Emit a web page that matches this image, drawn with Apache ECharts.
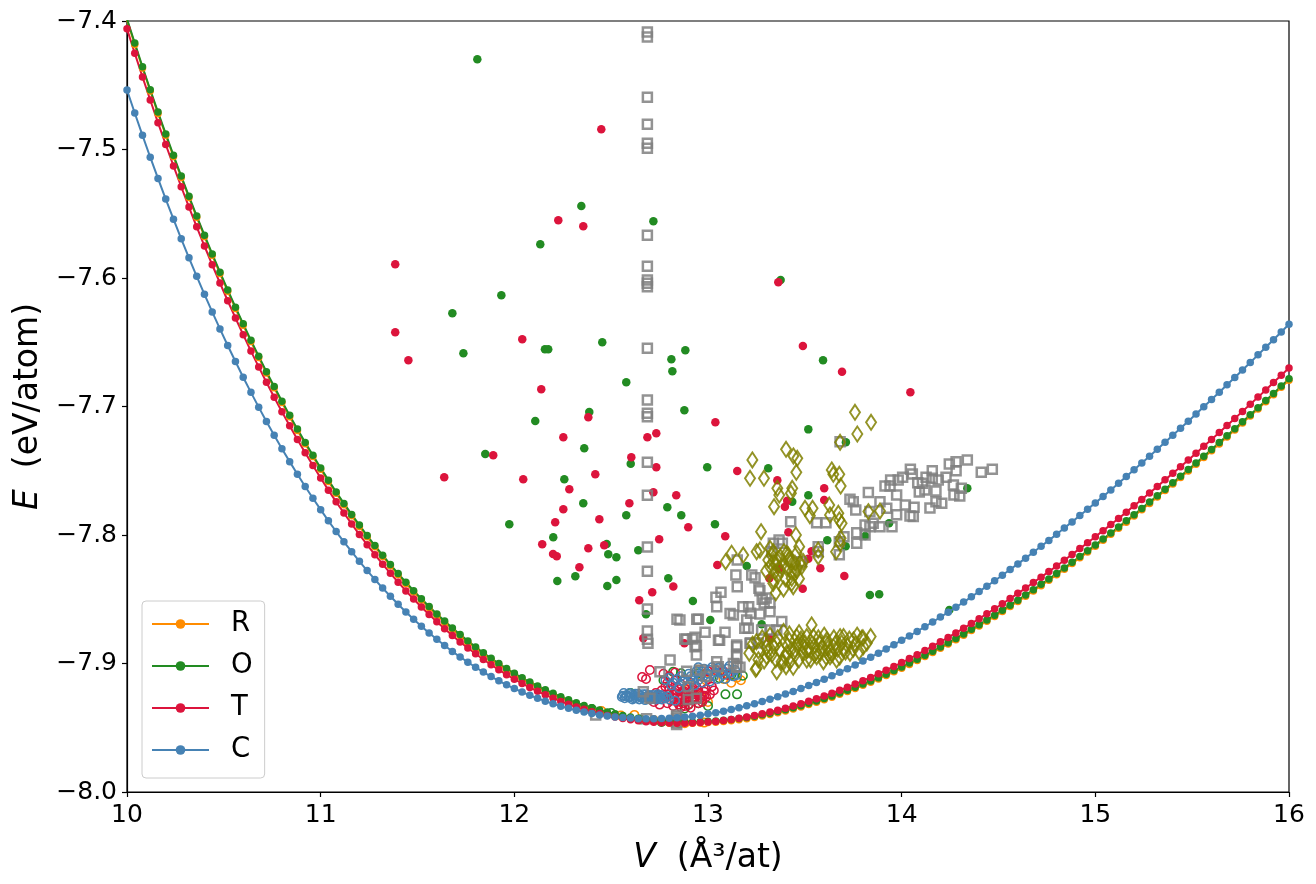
<!DOCTYPE html>
<html>
<head>
<meta charset="utf-8">
<title>E(V)</title>
<script src="https://cdn.jsdelivr.net/npm/echarts/dist/echarts.min.js"></script>
<style>
  html, body { margin: 0; padding: 0; background: #fff; }
  #chart { width: 1316px; height: 884px; }
</style>
</head>
<body>
<div id="chart"></div>
<script>
// volume grid shared by the four E(V) curves (A^3/at)
var vol = [
  10.00,10.04,10.08,10.12,10.16,10.20,10.24,10.28,10.32,10.36,10.40,10.44,10.48,10.52,10.56,10.60,10.64,10.68,10.72,10.76,10.80,10.84,10.88,10.92,10.96,
  11.00,11.04,11.08,11.12,11.16,11.20,11.24,11.28,11.32,11.36,11.40,11.44,11.48,11.52,11.56,11.60,11.64,11.68,11.72,11.76,11.80,11.84,11.88,11.92,11.96,
  12.00,12.04,12.08,12.12,12.16,12.20,12.24,12.28,12.32,12.36,12.40,12.44,12.48,12.52,12.56,12.60,12.64,12.68,12.72,12.76,12.80,12.84,12.88,12.92,12.96,
  13.00,13.04,13.08,13.12,13.16,13.20,13.24,13.28,13.32,13.36,13.40,13.44,13.48,13.52,13.56,13.60,13.64,13.68,13.72,13.76,13.80,13.84,13.88,13.92,13.96,
  14.00,14.04,14.08,14.12,14.16,14.20,14.24,14.28,14.32,14.36,14.40,14.44,14.48,14.52,14.56,14.60,14.64,14.68,14.72,14.76,14.80,14.84,14.88,14.92,14.96,
  15.00,15.04,15.08,15.12,15.16,15.20,15.24,15.28,15.32,15.36,15.40,15.44,15.48,15.52,15.56,15.60,15.64,15.68,15.72,15.76,15.80,15.84,15.88,15.92,15.96,
  16.00
];

// energies (eV/atom)
var eR = [
  -7.3994,-7.4182,-7.4366,-7.4545,-7.4719,-7.4889,-7.5055,-7.5217,-7.5374,-7.5528,-7.5677,-7.5823,-7.5965,-7.6103,-7.6237,-7.6367,-7.6495,-7.6618,-7.6739,-7.6855,-7.6969,-7.7079,-7.7186,-7.7290,-7.7390,
  -7.7488,-7.7583,-7.7675,-7.7764,-7.7850,-7.7933,-7.8014,-7.8092,-7.8167,-7.8240,-7.8310,-7.8378,-7.8443,-7.8506,-7.8566,-7.8624,-7.8680,-7.8734,-7.8785,-7.8834,-7.8881,-7.8927,-7.8969,-7.9010,-7.9049,
  -7.9086,-7.9121,-7.9154,-7.9185,-7.9214,-7.9242,-7.9269,-7.9293,-7.9315,-7.9336,-7.9355,-7.9372,-7.9388,-7.9402,-7.9415,-7.9426,-7.9436,-7.9445,-7.9451,-7.9457,-7.9461,-7.9464,-7.9465,-7.9465,-7.9463,
  -7.9460,-7.9457,-7.9452,-7.9446,-7.9438,-7.9430,-7.9420,-7.9409,-7.9397,-7.9383,-7.9369,-7.9354,-7.9338,-7.9320,-7.9302,-7.9282,-7.9262,-7.9240,-7.9218,-7.9195,-7.9170,-7.9146,-7.9120,-7.9093,-7.9065,
  -7.9037,-7.9007,-7.8977,-7.8946,-7.8914,-7.8882,-7.8849,-7.8815,-7.8780,-7.8744,-7.8708,-7.8671,-7.8634,-7.8595,-7.8556,-7.8517,-7.8477,-7.8436,-7.8394,-7.8352,-7.8310,-7.8266,-7.8222,-7.8178,-7.8133,
  -7.8087,-7.8041,-7.7995,-7.7948,-7.7900,-7.7852,-7.7803,-7.7754,-7.7704,-7.7654,-7.7604,-7.7553,-7.7501,-7.7449,-7.7397,-7.7344,-7.7291,-7.7237,-7.7183,-7.7129,-7.7074,-7.7019,-7.6964,-7.6908,-7.6851,
  -7.6795
];
var eO = [
  -7.3984,-7.4172,-7.4356,-7.4535,-7.4709,-7.4879,-7.5045,-7.5207,-7.5364,-7.5518,-7.5667,-7.5813,-7.5955,-7.6093,-7.6227,-7.6357,-7.6485,-7.6608,-7.6729,-7.6845,-7.6959,-7.7069,-7.7176,-7.7280,-7.7380,
  -7.7478,-7.7573,-7.7665,-7.7754,-7.7840,-7.7923,-7.8004,-7.8082,-7.8157,-7.8230,-7.8300,-7.8368,-7.8433,-7.8496,-7.8556,-7.8614,-7.8670,-7.8724,-7.8775,-7.8824,-7.8871,-7.8917,-7.8959,-7.9000,-7.9039,
  -7.9076,-7.9111,-7.9144,-7.9175,-7.9204,-7.9232,-7.9259,-7.9283,-7.9305,-7.9326,-7.9345,-7.9362,-7.9378,-7.9392,-7.9405,-7.9416,-7.9426,-7.9435,-7.9441,-7.9447,-7.9451,-7.9454,-7.9455,-7.9455,-7.9453,
  -7.9450,-7.9447,-7.9442,-7.9436,-7.9428,-7.9420,-7.9410,-7.9399,-7.9387,-7.9373,-7.9359,-7.9344,-7.9328,-7.9310,-7.9292,-7.9272,-7.9252,-7.9230,-7.9208,-7.9185,-7.9160,-7.9136,-7.9110,-7.9083,-7.9055,
  -7.9027,-7.8997,-7.8967,-7.8936,-7.8904,-7.8872,-7.8839,-7.8805,-7.8770,-7.8734,-7.8698,-7.8661,-7.8624,-7.8585,-7.8546,-7.8507,-7.8467,-7.8426,-7.8384,-7.8342,-7.8300,-7.8256,-7.8212,-7.8168,-7.8123,
  -7.8077,-7.8031,-7.7985,-7.7938,-7.7890,-7.7842,-7.7793,-7.7744,-7.7694,-7.7644,-7.7594,-7.7543,-7.7491,-7.7439,-7.7387,-7.7334,-7.7281,-7.7227,-7.7173,-7.7119,-7.7064,-7.7009,-7.6954,-7.6898,-7.6841,
  -7.6785
];
var eT = [
  -7.4061,-7.4251,-7.4435,-7.4615,-7.4791,-7.4961,-7.5128,-7.5290,-7.5448,-7.5602,-7.5751,-7.5897,-7.6039,-7.6177,-7.6311,-7.6441,-7.6569,-7.6692,-7.6811,-7.6928,-7.7041,-7.7150,-7.7256,-7.7359,-7.7459,
  -7.7556,-7.7651,-7.7742,-7.7829,-7.7914,-7.7997,-7.8076,-7.8153,-7.8227,-7.8298,-7.8367,-7.8435,-7.8498,-7.8560,-7.8619,-7.8675,-7.8730,-7.8782,-7.8832,-7.8879,-7.8924,-7.8969,-7.9010,-7.9049,-7.9087,
  -7.9122,-7.9155,-7.9187,-7.9216,-7.9244,-7.9270,-7.9295,-7.9317,-7.9338,-7.9357,-7.9375,-7.9390,-7.9405,-7.9417,-7.9428,-7.9437,-7.9446,-7.9453,-7.9458,-7.9462,-7.9464,-7.9465,-7.9465,-7.9463,-7.9460,
  -7.9455,-7.9451,-7.9444,-7.9436,-7.9427,-7.9416,-7.9405,-7.9392,-7.9378,-7.9364,-7.9348,-7.9331,-7.9313,-7.9294,-7.9274,-7.9253,-7.9231,-7.9208,-7.9185,-7.9160,-7.9134,-7.9108,-7.9080,-7.9052,-7.9023,
  -7.8993,-7.8962,-7.8931,-7.8898,-7.8865,-7.8831,-7.8797,-7.8762,-7.8725,-7.8689,-7.8651,-7.8613,-7.8574,-7.8535,-7.8495,-7.8454,-7.8413,-7.8370,-7.8328,-7.8285,-7.8241,-7.8196,-7.8151,-7.8106,-7.8060,
  -7.8013,-7.7966,-7.7919,-7.7871,-7.7822,-7.7773,-7.7723,-7.7673,-7.7622,-7.7571,-7.7520,-7.7468,-7.7416,-7.7363,-7.7310,-7.7256,-7.7203,-7.7148,-7.7093,-7.7038,-7.6983,-7.6927,-7.6871,-7.6814,-7.6757,
  -7.6700
];
var eC = [
  -7.4537,-7.4716,-7.4890,-7.5060,-7.5225,-7.5386,-7.5542,-7.5695,-7.5843,-7.5987,-7.6127,-7.6264,-7.6396,-7.6525,-7.6650,-7.6772,-7.6890,-7.7005,-7.7116,-7.7223,-7.7328,-7.7429,-7.7527,-7.7622,-7.7714,
  -7.7803,-7.7890,-7.7973,-7.8053,-7.8130,-7.8205,-7.8277,-7.8346,-7.8413,-7.8477,-7.8539,-7.8599,-7.8656,-7.8710,-7.8763,-7.8812,-7.8860,-7.8906,-7.8949,-7.8990,-7.9029,-7.9067,-7.9102,-7.9135,-7.9166,
  -7.9195,-7.9222,-7.9248,-7.9271,-7.9293,-7.9313,-7.9333,-7.9349,-7.9364,-7.9378,-7.9389,-7.9400,-7.9408,-7.9416,-7.9421,-7.9425,-7.9429,-7.9430,-7.9430,-7.9428,-7.9426,-7.9422,-7.9416,-7.9410,-7.9402,
  -7.9392,-7.9383,-7.9371,-7.9358,-7.9344,-7.9329,-7.9313,-7.9296,-7.9278,-7.9258,-7.9238,-7.9217,-7.9195,-7.9171,-7.9147,-7.9122,-7.9096,-7.9068,-7.9040,-7.9011,-7.8981,-7.8951,-7.8920,-7.8887,-7.8854,
  -7.8820,-7.8786,-7.8750,-7.8714,-7.8677,-7.8639,-7.8601,-7.8562,-7.8522,-7.8481,-7.8440,-7.8398,-7.8356,-7.8313,-7.8269,-7.8225,-7.8180,-7.8134,-7.8088,-7.8042,-7.7994,-7.7946,-7.7898,-7.7849,-7.7800,
  -7.7750,-7.7700,-7.7649,-7.7597,-7.7545,-7.7493,-7.7440,-7.7387,-7.7333,-7.7279,-7.7224,-7.7170,-7.7114,-7.7058,-7.7002,-7.6946,-7.6889,-7.6831,-7.6774,-7.6716,-7.6657,-7.6598,-7.6539,-7.6480,-7.6420,
  -7.6360
];

// extra O structures (filled green dots), [V, E]
var oExtra = [
  [11.809,-7.4298],[12.346,-7.544],[12.718,-7.5559],[12.134,-7.5738],[11.933,-7.6135],[11.680,-7.6275],
  [13.375,-7.6016],[11.737,-7.6586],[12.158,-7.6555],[12.175,-7.6555],[12.454,-7.650],[12.883,-7.6563],
  [12.811,-7.6633],[12.816,-7.6726],[12.578,-7.6812],[12.878,-7.703],[12.387,-7.7043],[12.108,-7.7113],
  [12.361,-7.7325],[11.850,-7.737],[12.601,-7.7445],[12.258,-7.7567],[12.356,-7.7753],[12.790,-7.7784],
  [12.862,-7.7847],[12.578,-7.7847],[11.974,-7.7917],[12.201,-7.8018],[12.477,-7.807],[12.485,-7.815],
  [12.527,-7.8174],[12.640,-7.8119],[12.222,-7.8358],[12.315,-7.8321],[12.480,-7.8397],[12.527,-7.835],
  [12.795,-7.8337],[12.922,-7.8514],[12.680,-7.8617],[13.518,-7.7178],[13.712,-7.7279],[12.996,-7.7473],
  [13.311,-7.7481],[13.518,-7.7691],[13.435,-7.7741],[13.036,-7.7917],[13.616,-7.8041],[13.711,-7.8088],
  [13.812,-7.8008],[13.935,-7.7909],[14.339,-7.7637],[13.200,-7.8241],[13.012,-7.8661],[13.277,-7.8695],
  [13.836,-7.8467],[13.884,-7.8461],[14.246,-7.8584],[13.594,-7.664]
];

// extra T structures (filled crimson dots)
var tExtra = [
  [12.449,-7.4843],[12.227,-7.5551],[12.356,-7.5598],[11.385,-7.5893],[13.363,-7.6033],[11.385,-7.6423],
  [11.453,-7.664],[12.041,-7.6477],[12.139,-7.6866],[12.382,-7.7084],[12.253,-7.724],[12.687,-7.724],
  [12.733,-7.7209],[11.891,-7.738],[12.604,-7.7395],[12.733,-7.7473],[11.638,-7.7551],[12.046,-7.7567],
  [12.418,-7.7528],[12.284,-7.7644],[12.718,-7.7668],[12.836,-7.7691],[12.594,-7.7753],[12.253,-7.780],
  [12.439,-7.7878],[12.211,-7.7901],[12.898,-7.794],[12.748,-7.8033],[12.144,-7.8072],[12.382,-7.8104],
  [12.464,-7.808],[12.200,-7.8148],[12.219,-7.8166],[12.336,-7.8251],[12.821,-7.84],[12.712,-7.8446],
  [12.645,-7.8508],[12.666,-7.8804],[12.878,-7.8843],[14.045,-7.6889],[13.038,-7.7123],[13.151,-7.7502],
  [13.358,-7.7574],[13.600,-7.7637],[13.600,-7.7728],[13.409,-7.7733],[13.397,-7.778],[13.089,-7.801],
  [13.415,-7.7979],[13.535,-7.8127],[13.518,-7.8185],[13.048,-7.8233],[13.368,-7.8262],[13.580,-7.8259],
  [13.704,-7.8319],[13.317,-7.8337],[13.489,-7.8418],[13.317,-7.8804],[13.490,-7.653],[13.692,-7.673]
];

// relaxed structures near the minimum (open circles)
var rOpen = [
  [12.95,-7.905],[13.00,-7.906],[13.05,-7.907],[13.10,-7.908],[13.15,-7.911],[13.17,-7.913],[13.12,-7.915],
  [13.03,-7.910],[12.93,-7.911],[12.99,-7.913],[13.08,-7.912],[12.90,-7.920],[12.96,-7.925],[13.00,-7.930],
  [12.62,-7.940],[12.72,-7.944],[12.80,-7.9455],[12.88,-7.9465],[12.98,-7.946],[12.45,-7.937],[12.55,-7.9405]
];
var oOpen = [
  [12.82,-7.9065],[12.86,-7.9075],[12.95,-7.9075],[13.06,-7.9115],[13.09,-7.924],[13.15,-7.924],[13.12,-7.909],
  [13.18,-7.9095],[12.90,-7.932],[12.95,-7.931],[13.00,-7.933],[12.82,-7.924],[12.77,-7.913],[12.92,-7.927],
  [12.88,-7.935],[12.60,-7.923],[12.50,-7.9385],[12.65,-7.9435],[12.76,-7.9455],[12.85,-7.9465],[12.40,-7.9355],
  [12.70,-7.928]
];
var tOpen = [
  [12.77,-7.908],[12.80,-7.910],[12.83,-7.913],[12.86,-7.916],[12.89,-7.918],[12.92,-7.921],[12.95,-7.923],
  [12.98,-7.925],[12.80,-7.920],[12.83,-7.923],[12.86,-7.925],[12.89,-7.927],[12.92,-7.929],[12.95,-7.931],
  [12.78,-7.927],[12.81,-7.929],[12.84,-7.930],[12.87,-7.931],[12.90,-7.932],[12.76,-7.925],[12.74,-7.928],
  [12.72,-7.930],[12.85,-7.920],[12.88,-7.922],[12.91,-7.915],[12.94,-7.918],[12.97,-7.915],[13.00,-7.912],
  [13.02,-7.918],[12.99,-7.920],[13.04,-7.905],[13.08,-7.906],[13.10,-7.909],[13.00,-7.906],[12.83,-7.907],
  [12.79,-7.915],[12.70,-7.905],[12.66,-7.9105],[12.68,-7.912],[12.97,-7.928],[12.93,-7.926],[12.82,-7.933],
  [12.86,-7.934],[12.91,-7.9345],
  [12.78,-7.918],[12.80,-7.924],[12.82,-7.927],[12.84,-7.926],[12.84,-7.918],[12.86,-7.928],[12.87,-7.922],
  [12.88,-7.929],[12.89,-7.924],[12.90,-7.926],[12.91,-7.923],[12.93,-7.924],[12.94,-7.928],[12.96,-7.927],
  [12.98,-7.922],[12.99,-7.926],[13.01,-7.924],[12.85,-7.932],[12.88,-7.933],[12.79,-7.931],[12.76,-7.921],
  [12.81,-7.917],[12.92,-7.919],[12.95,-7.921],[12.97,-7.930],[13.03,-7.921],[12.75,-7.932],[12.73,-7.923],
  [12.87,-7.926],[12.83,-7.921]
];
var cOpen = [
  [12.56,-7.925],[12.58,-7.9245],[12.60,-7.926],[12.62,-7.925],[12.63,-7.927],[12.65,-7.925],[12.66,-7.927],
  [12.67,-7.926],[12.69,-7.927],[12.70,-7.925],[12.71,-7.927],[12.72,-7.926],[12.73,-7.928],[12.75,-7.926],
  [12.76,-7.928],[12.78,-7.927],[12.80,-7.928],[12.83,-7.929],[12.57,-7.927],[12.61,-7.928],[12.64,-7.9235],
  [12.68,-7.924],[12.74,-7.924],[12.78,-7.913],[12.80,-7.911],[12.82,-7.915],[12.86,-7.910],[12.88,-7.912],
  [12.90,-7.908],[12.92,-7.913],[12.94,-7.906],[12.96,-7.910],[12.98,-7.904],[13.00,-7.908],[13.02,-7.903],
  [13.04,-7.907],[13.06,-7.903],[13.08,-7.909],[13.10,-7.904],[13.12,-7.907],[12.93,-7.917],[12.97,-7.915],
  [13.01,-7.914],[12.89,-7.918],[12.85,-7.919],[13.05,-7.912],[12.95,-7.903],[13.14,-7.905],
  [12.555,-7.926],[12.565,-7.923],[12.575,-7.9255],[12.59,-7.9265],[12.595,-7.923],[12.605,-7.9245],
  [12.615,-7.927],[12.625,-7.9235],[12.635,-7.9255],[12.645,-7.928],[12.655,-7.9265],[12.665,-7.924],
  [12.675,-7.9285],[12.685,-7.9255],[12.695,-7.9245],[12.705,-7.928],[12.715,-7.9245],[12.725,-7.9265],
  [12.735,-7.925],[12.745,-7.9275],[12.755,-7.9245],[12.77,-7.9265],[12.79,-7.9255],
  [12.87,-7.914],[12.91,-7.910],[12.93,-7.909],[12.99,-7.911],[13.03,-7.910],[13.07,-7.906],[13.09,-7.912],
  [13.11,-7.902],[13.13,-7.910],[12.97,-7.906],[13.01,-7.905],[12.95,-7.913],[12.84,-7.912],[12.81,-7.917],
  [13.05,-7.9035],[13.15,-7.909]
];

// gray open squares
var grayOpen = [
  [12.687,-7.4086],[12.687,-7.4125],[12.687,-7.4594],[12.687,-7.4804],[12.687,-7.4952],[12.687,-7.4991],
  [12.687,-7.5668],[12.687,-7.5909],[12.687,-7.6016],[12.687,-7.604],[12.687,-7.6068],[12.687,-7.6547],
  [12.687,-7.6949],[12.687,-7.7053],[12.687,-7.7079],[12.687,-7.7434],[12.687,-7.7691],[12.687,-7.8093],
  [12.687,-7.8282],[12.687,-7.8576],[12.687,-7.8747],[12.687,-7.8812],
  [12.840,-7.8656],[12.942,-7.8656],[12.88,-7.881],[12.92,-7.881],[12.94,-7.886],[12.752,-7.9064],
  [12.804,-7.8973],[12.666,-7.922],[12.70,-7.927],[12.838,-7.940],[12.838,-7.943],[12.838,-7.946],
  [12.838,-7.9475],[12.838,-7.9415],[12.835,-7.9445],
  [12.683,-7.943],[12.42,-7.940],[12.94,-7.8934],[13.06,-7.882],[13.148,-7.8856],[13.148,-7.8934],
  [13.148,-7.9025],[12.89,-7.906],[12.898,-7.918],[12.96,-7.905],[12.99,-7.910],[13.045,-7.8986],
  [13.131,-7.90],[12.94,-7.927],[12.898,-7.928],[12.69,-7.8843],[13.053,-7.9025],[13.22,-7.884],[13.26,-7.884],
  [13.682,-7.7274],[14.339,-7.7416],[14.246,-7.7447],[14.281,-7.7429],[14.281,-7.750],[14.411,-7.7512],
  [14.468,-7.7489],[14.045,-7.7489],[14.055,-7.7525],[14.158,-7.750],[14.158,-7.7559],[14.005,-7.7551],
  [14.126,-7.7551],[14.189,-7.7572],[14.229,-7.7551],[13.943,-7.7572],[13.982,-7.7572],[13.914,-7.7619],
  [13.940,-7.7619],[13.974,-7.7689],[14.083,-7.7593],[14.107,-7.7598],[14.120,-7.765],[14.091,-7.7665],
  [14.177,-7.7658],[14.267,-7.7611],[14.308,-7.7637],[14.177,-7.7741],[14.207,-7.7753],[14.27,-7.7689],
  [14.30,-7.7696],[14.146,-7.779],[14.019,-7.7767],[14.064,-7.7785],[14.043,-7.7852],[14.060,-7.7857],
  [13.974,-7.7842],[13.950,-7.7935],[13.888,-7.7741],[13.923,-7.7792],[13.836,-7.7818],[13.853,-7.7909],
  [13.888,-7.7935],[13.836,-7.7935],[13.811,-7.7922],[13.811,-7.80],[13.768,-7.7982],[13.768,-7.8065],
  [13.733,-7.7722],[13.750,-7.7741],[13.828,-7.767],[13.763,-7.7805],[13.678,-7.8153],[13.678,-7.8052],
  [13.702,-7.8013],[13.569,-7.8091],[13.569,-7.813],[13.427,-7.7896],[13.609,-7.7904],[13.561,-7.7904],
  [13.367,-7.8039],[13.384,-7.8065],[13.329,-7.813],[13.482,-7.8208],[13.151,-7.8195],[13.144,-7.8311],
  [13.151,-7.8402],[13.226,-7.8311],[13.243,-7.8332],[13.263,-7.8415],[13.268,-7.8433],[13.30,-7.849],
  [13.32,-7.853],[13.29,-7.853],[13.28,-7.850],[13.18,-7.8558],[13.21,-7.8558],[13.22,-7.8609],[13.20,-7.8661],
  [13.19,-7.8726],[13.131,-7.8623],[13.114,-7.861],[13.067,-7.8446],[13.041,-7.8485],[13.045,-7.8558],
  [12.950,-7.8656],[12.985,-7.8757],[13.088,-7.8757],[13.054,-7.882],[12.933,-7.8796],[12.933,-7.8869],
  [12.890,-7.8812],[13.208,-7.8726],[13.277,-7.8739],[13.320,-7.8739],[13.355,-7.8739],[13.381,-7.8674],
  [13.268,-7.8615],[13.320,-7.8597],[13.148,-7.8869],[13.148,-7.8947],[13.148,-7.903],[12.855,-7.8661],
  [13.217,-7.8843],[13.165,-7.903],[13.337,-7.8065]
];

// olive open diamonds
var oliveOpen = [
  [13.759,-7.7045],[13.842,-7.7123],[13.771,-7.7214],[13.682,-7.7279],[13.403,-7.7333],[13.441,-7.7385],
  [13.461,-7.7403],[13.229,-7.7416],[13.456,-7.7512],[13.217,-7.7559],[13.289,-7.7559],[13.639,-7.7494],
  [13.647,-7.7528],[13.678,-7.7528],[13.685,-7.7619],[13.358,-7.7637],[13.368,-7.7689],[13.435,-7.7637],
  [13.428,-7.7675],[13.341,-7.778],[13.501,-7.7792],[13.540,-7.7792],[13.526,-7.785],[13.626,-7.7767],
  [13.630,-7.7844],[13.673,-7.7831],[13.678,-7.7883],[13.690,-7.7909],[13.828,-7.7818],[13.888,-7.7813],
  [13.274,-7.7974],[13.454,-7.80],[13.471,-7.8091],[13.458,-7.8142],[13.685,-7.8026],[13.682,-7.8065],
  [13.661,-7.813],[13.569,-7.8117],[13.569,-7.8169],[13.122,-7.8142],[13.182,-7.8156],[13.091,-7.8208],
  [13.251,-7.813],[13.268,-7.8117],[13.320,-7.8104],[13.337,-7.813],
  [13.311,-7.8195],[13.337,-7.8208],[13.355,-7.8195],[13.372,-7.8169],[13.406,-7.8143],[13.423,-7.8208],
  [13.449,-7.822],[13.475,-7.8215],[13.492,-7.8208],[13.32,-7.8246],[13.346,-7.8285],[13.372,-7.8272],
  [13.406,-7.8259],[13.432,-7.8285],[13.458,-7.8272],[13.484,-7.8246],[13.337,-7.835],[13.337,-7.8376],
  [13.432,-7.8337],[13.432,-7.8376],[13.44,-7.8402],[13.415,-7.8156],[13.392,-7.813],[13.355,-7.8233],
  [13.30,-7.828],[13.36,-7.832],[13.40,-7.834],[13.45,-7.830],[13.47,-7.834],[13.42,-7.819],[13.38,-7.824],
  [13.33,-7.816],[13.39,-7.842],[13.35,-7.845],
  [13.535,-7.870],[13.213,-7.892],[13.251,-7.9037],[13.303,-7.8869],[13.303,-7.8947],[13.355,-7.8843],
  [13.355,-7.9064],[13.458,-7.8791],[13.466,-7.8843],[13.449,-7.8895],[13.492,-7.8869],[13.406,-7.8921],
  [13.423,-7.8986],[13.403,-7.9025],[13.38,-7.8986],[13.544,-7.8791],[13.578,-7.8843],[13.613,-7.8817],
  [13.647,-7.8869],[13.682,-7.8791],[13.699,-7.8895],[13.751,-7.8817],[13.794,-7.8804],[13.802,-7.8869],
  [13.733,-7.8921],[13.664,-7.8973],[13.630,-7.8947],[13.596,-7.8986],[13.561,-7.8947],[13.510,-7.8973],
  [13.28,-7.880],[13.32,-7.878],[13.39,-7.875],[13.42,-7.882],[13.47,-7.876],[13.50,-7.884],[13.52,-7.889],
  [13.55,-7.886],[13.58,-7.892],[13.60,-7.878],[13.62,-7.888],[13.66,-7.884],[13.70,-7.879],[13.72,-7.886],
  [13.75,-7.889],[13.77,-7.878],[13.82,-7.884],[13.84,-7.879],[13.40,-7.895],[13.45,-7.893],[13.49,-7.892],
  [13.53,-7.897],[13.57,-7.880],[13.64,-7.893],[13.68,-7.895],[13.26,-7.890],[13.33,-7.893],[13.37,-7.889],
  [13.29,-7.898],[13.44,-7.903],[13.26,-7.897],[13.23,-7.885],[13.246,-7.9045],
  [13.25,-7.883],[13.30,-7.882],[13.34,-7.887],[13.36,-7.880],[13.41,-7.886],[13.43,-7.889],[13.46,-7.886],
  [13.48,-7.881],[13.51,-7.879],[13.53,-7.883],[13.56,-7.891],[13.59,-7.887],[13.61,-7.884],[13.63,-7.891],
  [13.65,-7.880],[13.67,-7.889],[13.69,-7.884],[13.71,-7.891],[13.73,-7.881],[13.76,-7.885],[13.78,-7.891],
  [13.80,-7.880],[13.47,-7.897],[13.51,-7.890],[13.55,-7.893],[13.61,-7.895],[13.39,-7.899],[13.35,-7.897],
  [13.31,-7.890],[13.42,-7.877]
];

var FONT = 'DejaVu Sans';
var minus = function (s) { return String(s).replace('-', '\u2212'); };

function curve(name, ys, color) {
  return {
    name: name,
    type: 'line',
    data: vol.map(function (v, i) { return [v, ys[i]]; }),
    symbol: 'circle',
    symbolSize: 7.5,
    showAllSymbol: true,
    lineStyle: { color: color, width: 2 },
    itemStyle: { color: color, opacity: 1 },
    emphasis: { disabled: true }
  };
}

function openPts(data, color, symbol, size, bw) {
  return {
    type: 'scatter',
    data: data,
    symbol: symbol,
    symbolSize: size,
    itemStyle: { color: 'rgba(0,0,0,0)', borderColor: color, borderWidth: bw, opacity: 1 },
    emphasis: { disabled: true }
  };
}

function filledPts(data, color) {
  return {
    type: 'scatter',
    data: data,
    symbol: 'circle',
    symbolSize: 8.5,
    itemStyle: { color: color, opacity: 1 },
    emphasis: { disabled: true }
  };
}

var chart = echarts.init(document.getElementById('chart'));
chart.setOption({
  animation: false,
  backgroundColor: '#ffffff',
  grid: {
    left: 127, right: 27, top: 21, bottom: 92,
    show: true, borderColor: '#000', borderWidth: 1.2, backgroundColor: 'transparent'
  },
  legend: {
    data: ['R', 'O', 'T', 'C'],
    orient: 'vertical',
    left: 142,
    top: 601,
    itemWidth: 57,
    itemHeight: 12,
    itemGap: 12,
    padding: [8, 12, 13, 9],
    backgroundColor: '#ffffff',
    borderColor: '#cccccc',
    borderWidth: 1,
    borderRadius: 4,
    textStyle: { fontFamily: FONT, fontSize: 27.5, color: '#000', lineHeight: 30, padding: [0, 0, 0, 17] }
  },
  xAxis: {
    type: 'value',
    min: 10, max: 16, interval: 1,
    name: '{i|V}  (Å³/at)',
    nameLocation: 'middle',
    nameGap: 50,
    nameTextStyle: {
      fontFamily: FONT, fontSize: 33, color: '#000',
      rich: { i: { fontFamily: FONT, fontSize: 33, fontStyle: 'italic', color: '#000' } }
    },
    axisLine: { show: true, onZero: false, lineStyle: { color: '#000', width: 1.2 } },
    axisTick: { show: true, length: 5, lineStyle: { color: '#000', width: 1.2 } },
    axisLabel: { fontFamily: FONT, fontSize: 25, color: '#000', margin: 11 },
    splitLine: { show: false }
  },
  yAxis: {
    type: 'value',
    min: -8, max: -7.4, interval: 0.1,
    name: '{i|E}  (eV/atom)',
    nameLocation: 'middle',
    nameGap: 82,
    nameTextStyle: {
      fontFamily: FONT, fontSize: 33, color: '#000',
      rich: { i: { fontFamily: FONT, fontSize: 33, fontStyle: 'italic', color: '#000' } }
    },
    axisLine: { show: true, onZero: false, lineStyle: { color: '#000', width: 1.2 } },
    axisTick: { show: true, length: 5, lineStyle: { color: '#000', width: 1.2 } },
    axisLabel: {
      fontFamily: FONT, fontSize: 25, color: '#000', margin: 10,
      formatter: function (v) { return minus(v.toFixed(1)); }
    },
    splitLine: { show: false }
  },
  series: [
    curve('R', eR, '#ff8c00'),
    curve('O', eO, '#228b22'),
    curve('T', eT, '#dc143c'),
    curve('C', eC, '#4682b4'),
    filledPts(oExtra, '#228b22'),
    filledPts(tExtra, '#dc143c'),
    openPts(rOpen, '#ff8c00', 'circle', 8.5, 1.5),
    openPts(oOpen, '#228b22', 'circle', 8.5, 1.5),
    openPts(tOpen, '#dc143c', 'circle', 8.5, 1.5),
    openPts(cOpen, '#4682b4', 'circle', 8.5, 1.5),
    openPts(grayOpen, 'rgba(128,128,128,0.85)', 'rect', 9, 2.5),
    openPts(oliveOpen, 'rgba(128,128,0,0.85)', 'diamond', [10, 15], 2)
  ]
});
</script>
</body>
</html>
